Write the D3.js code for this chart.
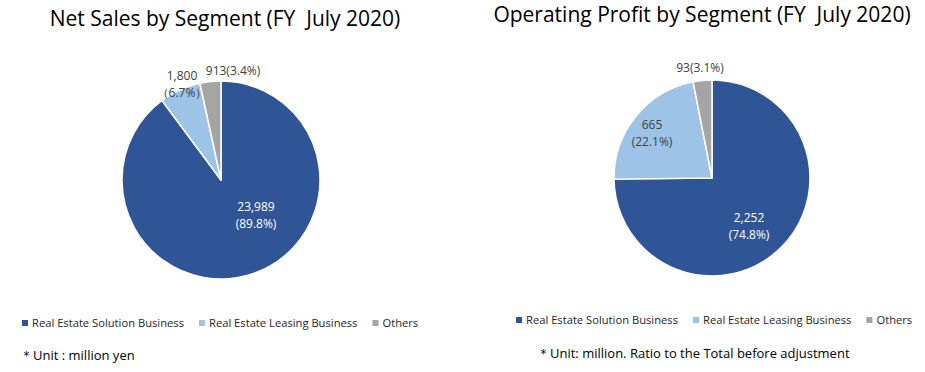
<!DOCTYPE html>
<html>
<head>
<meta charset="utf-8">
<script src="https://cdn.jsdelivr.net/npm/d3@7"></script>
<style>
  body { margin: 0; background: #fff; }
  text { font-family: "Open Sans", "Noto Sans", sans-serif; }
</style>
</head>
<body>
<div id="chart"></div>
<script>
// Segments et couleurs
const segments = ["Real Estate Solution Business", "Real Estate Leasing Business", "Others"];
const segmentColors = ["#2F5597", "#9DC3E6", "#A5A5A5"];

// Valeurs (million yen)
const netSales = [23989, 1800, 913];
const operatingProfit = [2252, 665, 93];

const width = 925;
const height = 372;

const svg = d3.select("#chart")
  .append("svg")
  .attr("width", width)
  .attr("height", height);

const color = d3.scaleOrdinal().domain(segments).range(segmentColors);
const fmt = d3.format(",");
const pct = d3.format(".1%");

// Dessine un camembert
function drawPie(opts) {
  const g = svg.append("g").attr("transform", `translate(${opts.cx}, ${opts.cy})`);

  const data = segments.map((s, i) => ({ segment: s, value: opts.values[i] }));
  const total = d3.sum(opts.values);
  const pie = d3.pie().value(d => d.value).sort(null);
  const arc = d3.arc().innerRadius(0).outerRadius(opts.radius);

  g.selectAll("path")
    .data(pie(data))
    .enter()
    .append("path")
    .attr("d", arc)
    .attr("fill", d => color(d.data.segment))
    .attr("stroke", "#fff")
    .attr("stroke-width", 1.5)
    .attr("stroke-linejoin", "round");

  // Labels (position façon Excel)
  data.forEach((d, i) => {
    const p = opts.labelPos[i];
    const v = fmt(d.value);
    const r = pct(d.value / total);
    const lines = p.oneLine ? [v + "(" + r + ")"]
      : p.wide ? [v, "\uFF08" + r + "\uFF09"] : [v, "(" + r + ")"];
    const t = g.append("text")
      .attr("text-anchor", "middle")
      .style("font-size", "12px")
      .style("fill", i === 0 ? "#fff" : "#404040");
    lines.forEach((l, k) => {
      t.append("tspan")
        .attr("x", p.dx)
        .attr("y", p.dy + k * 16.5)
        .attr("dy", "0.35em")
        .text(l);
    });
  });

  // Titre
  svg.append("text")
    .attr("x", opts.titleX)
    .attr("y", opts.titleY)
    .attr("text-anchor", "middle")
    .style("font-size", "21px")
    .style("fill", "#000")
    .text(opts.title);

  // Légende
  const leg = svg.append("g").attr("transform", `translate(${opts.legX}, ${opts.legY})`);
  let x = 0;
  segments.forEach((s, i) => {
    leg.append("rect")
      .attr("x", x)
      .attr("y", -3)
      .attr("width", 6)
      .attr("height", 6)
      .attr("fill", color(s));
    const t = leg.append("text")
      .attr("x", x + 10)
      .attr("y", 0)
      .attr("dy", "0.35em")
      .style("font-size", "11.2px")
      .style("fill", "#262626")
      .text(s);
    x += 10 + t.node().getComputedTextLength() + 15;
  });

  // Note
  svg.append("text")
    .attr("x", opts.noteX)
    .attr("y", opts.noteY)
    .style("font-size", "13px")
    .style("fill", "#000")
    .text(opts.note);
}

drawPie({
  cx: 221, cy: 180, radius: 99,
  values: netSales,
  title: "Net Sales by Segment (FY\u00A0 July 2020)",
  titleX: 225, titleY: 26,
  labelPos: [
    { dx: 35, dy: 27 },
    { dx: -39, dy: -104, wide: true },
    { dx: 12, dy: -109, oneLine: true }
  ],
  legX: 22, legY: 323,
  note: "\uFF0AUnit : million yen",
  noteX: 20, noteY: 360
});

drawPie({
  cx: 712, cy: 178, radius: 98,
  values: operatingProfit,
  title: "Operating Profit by Segment (FY\u00A0 July 2020)",
  titleX: 702, titleY: 22,
  labelPos: [
    { dx: 37, dy: 40 },
    { dx: -60, dy: -53 },
    { dx: -12, dy: -110, oneLine: true }
  ],
  legX: 516, legY: 320,
  note: "\uFF0AUnit: million. Ratio to the Total before adjustment",
  noteX: 537, noteY: 358
});
</script>
</body>
</html>
